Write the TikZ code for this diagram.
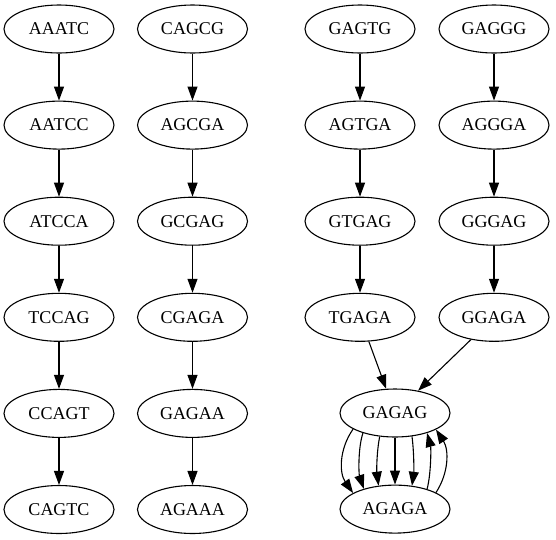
\documentclass[tikz,border=0pt]{standalone}
\usepackage{fontspec}
\setmainfont{Liberation Serif}
\usetikzlibrary{arrows.meta,positioning,shapes}

\begin{document}
\begin{tikzpicture}[
    x=1pt, y=-1pt,
    node distance=47pt,
    seq/.style={
        ellipse,
        draw=black,
        line width=1.1pt,
        minimum width=110pt,
        minimum height=48pt,
        inner sep=2pt,
        font=\fontsize{18}{20}\selectfont
    },
    edge/.style={
        line width=1.1pt,
        -{Triangle[length=14pt,width=10pt]}
    }
]
\useasboundingbox (0,0) rectangle (556,539);

% --- first column ---
\node[seq] (aaatc) at (59,29) {AAATC};
\node[seq, below=of aaatc] (aatcc) {AATCC};
\node[seq, below=of aatcc] (atcca) {ATCCA};
\node[seq, below=of atcca] (tccag) {TCCAG};
\node[seq, below=of tccag] (ccagt) {CCAGT};
\node[seq, below=of ccagt] (cagtc) {CAGTC};

% --- second column ---
\node[seq] (cagcg) at (192.5,29) {CAGCG};
\node[seq, below=of cagcg] (agcga) {AGCGA};
\node[seq, below=of agcga] (gcgag) {GCGAG};
\node[seq, below=of gcgag] (cgaga) {CGAGA};
\node[seq, below=of cgaga] (gagaa) {GAGAA};
\node[seq, below=of gagaa] (agaaa) {AGAAA};

% --- third and fourth columns ---
\node[seq] (gagtg) at (360,29) {GAGTG};
\node[seq, below=of gagtg] (agtga) {AGTGA};
\node[seq, below=of agtga] (gtgag) {GTGAG};
\node[seq, below=of gtgag] (tgaga) {TGAGA};
\node[seq] (gaggg) at (494,29) {GAGGG};
\node[seq, below=of gaggg] (aggga) {AGGGA};
\node[seq, below=of aggga] (gggag) {GGGAG};
\node[seq, below=of gggag] (ggaga) {GGAGA};

% --- the cycle at the bottom ---
\node[seq] (gagag) at (395,413) {GAGAG};
\node[seq, below=of gagag] (agaga) {AGAGA};

% --- straight edges ---
\foreach \a/\b in {aaatc/aatcc, aatcc/atcca, atcca/tccag, tccag/ccagt, ccagt/cagtc,
                   cagcg/agcga, agcga/gcgag, gcgag/cgaga, cgaga/gagaa, gagaa/agaaa,
                   gagtg/agtga, agtga/gtgag, gtgag/tgaga, tgaga/gagag,
                   gaggg/aggga, aggga/gggag, gggag/ggaga, ggaga/gagag}
    \draw[edge] (\a) -- (\b);

% GAGAG -> AGAGA (five times)
\draw[edge] (gagag.201) .. controls +(-14,20) and +(-14,-20) .. (agaga.159);
\draw[edge] (gagag.212) .. controls +(-5,15) and +(-5,-15) .. (agaga.147);
\draw[edge] (gagag.237) .. controls +(-3,15) and +(-2,-15) .. (agaga.125);
\draw[edge] (gagag.270) -- (agaga.90);
\draw[edge] (gagag.306) .. controls +(2,15) and +(2,-15) .. (agaga.54);
% AGAGA -> GAGAG (twice)
\draw[edge] (agaga.32) .. controls +(4,-15) and +(4,15) .. (gagag.328);
\draw[edge] (agaga.22) .. controls +(13,-20) and +(13,20) .. (gagag.338);
\end{tikzpicture}
\end{document}
